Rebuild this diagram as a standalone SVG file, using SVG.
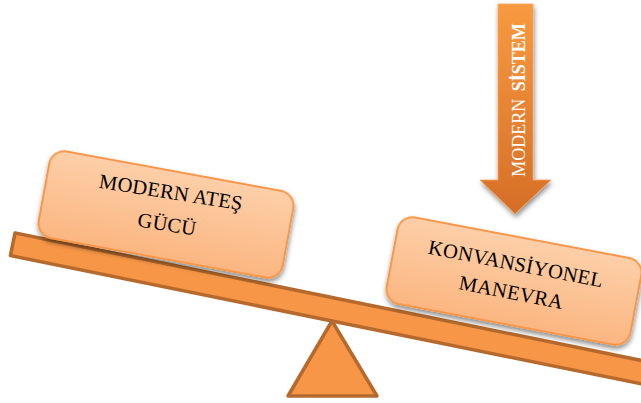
<svg xmlns="http://www.w3.org/2000/svg" width="641" height="403" viewBox="0 0 641 403">
<defs>
<linearGradient id="boxGrad" x1="0" y1="0" x2="0" y2="1">
<stop offset="0" stop-color="#fdcfa8"/>
<stop offset="1" stop-color="#fbb681"/>
</linearGradient>
<linearGradient id="arrowGrad" x1="0" y1="0" x2="0" y2="1">
<stop offset="0" stop-color="#f89a40"/>
<stop offset="1" stop-color="#d56e27"/>
</linearGradient>
<filter id="shadow" x="-20%" y="-20%" width="140%" height="150%">
<feDropShadow dx="1" dy="3" stdDeviation="2.5" flood-color="#000" flood-opacity="0.45"/>
</filter>
</defs>
<style>
.wood{fill:#f79646;stroke:#b5692c;stroke-width:3.5;stroke-linejoin:round}
.box{fill:url(#boxGrad);stroke:#f79646;stroke-width:2}
.lbl{font-family:"Liberation Serif","Times New Roman",serif;font-size:20.5px;letter-spacing:0.3px;fill:#000;text-anchor:middle}
.alb{font-family:"Liberation Serif","Times New Roman",serif;font-size:18px;fill:#fff;text-anchor:middle}
</style>
<g id="fulcrum">
<polygon class="wood" points="332,321 377,396 288,396"/>
</g>
<g id="plank">
<rect class="wood" x="0" y="0" width="700" height="23" transform="translate(15,233) rotate(11.5)"/>
</g>
<g id="node-modern-ates-gucu">
<rect class="box" x="-124" y="-44" width="248" height="88" rx="15" transform="translate(166,214.5) rotate(10.4)" filter="url(#shadow)"/>
<text class="lbl" transform="translate(170,199) rotate(9)">MODERN ATEŞ</text>
<text class="lbl" transform="translate(166,231) rotate(9)">GÜCÜ</text>
</g>
<g id="node-konvansiyonel-manevra">
<rect class="box" x="-124" y="-44" width="248" height="88" rx="15" transform="translate(514,281) rotate(10.7)" filter="url(#shadow)"/>
<text class="lbl" transform="translate(514.5,270.5) rotate(11)">KONVANSİYONEL</text>
<text class="lbl" transform="translate(510,299) rotate(11)">MANEVRA</text>
</g>
<g id="node-modern-sistem">
<polygon points="498,4 533,4 533,180 551,180 515,214 480,180 498,180" fill="url(#arrowGrad)" stroke="#f9a45a" stroke-width="0.8" filter="url(#shadow)"/>
<text class="alb" transform="translate(525,100) rotate(-90)">MODERN <tspan dx="3" font-weight="bold">SİSTEM</tspan></text>
</g>
<g id="connectors"/>
</svg>
